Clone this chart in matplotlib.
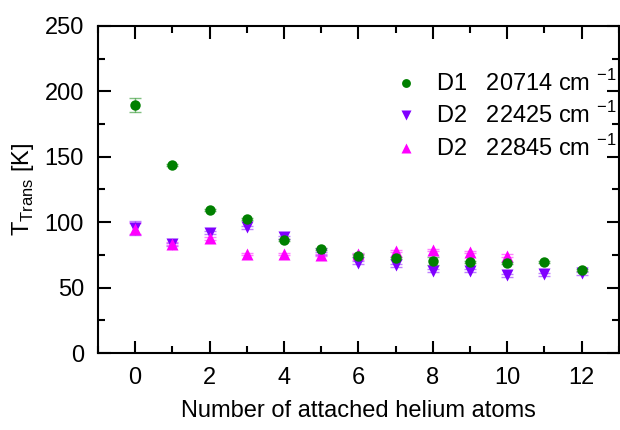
import matplotlib.pyplot as plt
from matplotlib.ticker import MultipleLocator

# number of attached helium atoms
n_he = [0, 1, 2, 3, 4, 5, 6, 7, 8, 9, 10, 11, 12]

# D1 20714 cm-1
t_d1 = [189.5, 143.5, 109.5, 102.5, 86.5, 79.5, 74.5, 72.5, 70.5, 69.5, 68.5, 69.5, 63.5]
err_d1 = [5, 0.8, 0.8, 0.8, 0.8, 0.8, 0.8, 0.8, 3, 0.8, 0.8, 0.8, 0.8]

# D2 22425 cm-1
n_d2a = [0, 1, 2, 3, 4, 5, 6, 7, 8, 9, 10, 11, 12]
t_d2a = [95.5, 83.0, 92.0, 96.0, 88.5, 76.0, 69.0, 67.0, 63.0, 63.0, 59.5, 60.0, 61.0]
err_d2a = [5, 1.2, 1.2, 1.2, 1.2, 1.2, 1.2, 1.2, 1.2, 1.2, 1.2, 1.2, 1.2]

# D2 22845 cm-1
n_d2b = [0, 1, 2, 3, 4, 5, 6, 7, 8, 9, 10]
t_d2b = [95.0, 83.5, 87.5, 75.5, 76.0, 75.0, 76.0, 78.0, 79.0, 77.0, 74.5]
err_d2b = [4, 1.2, 1.2, 0.8, 0.8, 0.8, 0.8, 0.8, 0.8, 0.8, 0.8]

labels = ['D1   20714 cm $^{-1}$', 'D2   22425 cm $^{-1}$', 'D2   22845 cm $^{-1}$']

plt.rcParams['font.family'] = ['Liberation Sans', 'DejaVu Sans']
plt.rcParams['mathtext.fontset'] = 'custom'
plt.rcParams['mathtext.rm'] = 'Liberation Sans'

fig = plt.figure(figsize=(6.2, 4.3), dpi=100)
ax = fig.add_axes([0.158, 0.179, 0.840, 0.761])

ax.errorbar(n_he, t_d1, yerr=err_d1, fmt='none', ecolor='#008000',
            capsize=4, elinewidth=1, alpha=0.5, zorder=2)
ax.errorbar(n_d2a, t_d2a, yerr=err_d2a, fmt='none', ecolor='#8000ff',
            capsize=4, elinewidth=1, alpha=0.5, zorder=2)
ax.errorbar(n_d2b, t_d2b, yerr=err_d2b, fmt='none', ecolor='#ff00ff',
            capsize=4, elinewidth=1, alpha=0.5, zorder=2)

ax.plot(n_d2a, t_d2a, 'v', color='#8000ff', ms=8.5, mec='none', label=labels[1], zorder=3)
ax.plot(n_d2b, t_d2b, '^', color='#ff00ff', ms=8.5, mec='none', label=labels[2], zorder=3)
ax.plot(n_he, t_d1, 'o', color='#008000', ms=7.5, mec='none', label=labels[0], zorder=4)

ax.set_xlim(-1, 13)
ax.set_ylim(0, 250)
ax.xaxis.set_major_locator(MultipleLocator(2))
ax.xaxis.set_minor_locator(MultipleLocator(1))
ax.yaxis.set_major_locator(MultipleLocator(50))
ax.yaxis.set_minor_locator(MultipleLocator(25))
ax.tick_params(which='both', direction='in', top=True, right=True,
               labelsize=17, width=1.5)
ax.tick_params(which='major', length=9, pad=10)
ax.tick_params(which='minor', length=5)
for s in ax.spines.values():
    s.set_linewidth(1.5)

ax.set_xlabel('Number of attached helium atoms', fontsize=17, labelpad=8)
ax.set_ylabel(r'T$_{\rm Trans}$ [K]', fontsize=17, labelpad=6)

h, l = ax.get_legend_handles_labels()
order = [2, 0, 1]
ax.legend([h[i] for i in order], [l[i] for i in order], loc='upper left',
          bbox_to_anchor=(0.569, 0.865), frameon=False, fontsize=17,
          handletextpad=0.75, labelspacing=0.28, handlelength=1.0,
          borderpad=0, borderaxespad=0, markerscale=0.85)

plt.savefig('out.png', dpi=100)
